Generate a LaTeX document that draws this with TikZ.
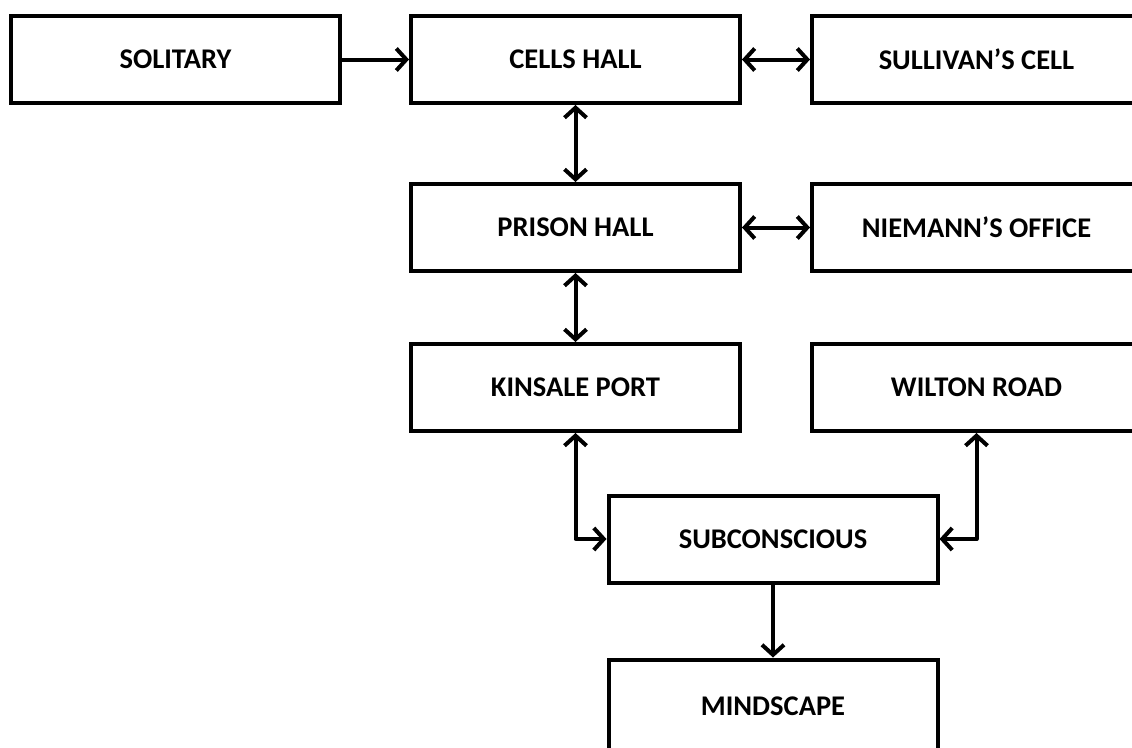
\documentclass[tikz,border=0pt]{standalone}
\usepackage{fontspec}
\setmainfont{Carlito}
\usetikzlibrary{arrows.meta}
\begin{document}
\begin{tikzpicture}[x=1pt,y=-1pt,
  box/.style={draw=black, line width=4pt, fill=white, rectangle,
    minimum width=329pt, minimum height=87pt, inner sep=0pt,
    font=\fontsize{28.5}{33}\selectfont\bfseries, text=black},
  conn/.style={line width=4pt, line join=round, line cap=round,
    arrows={-}, >={Straight Barb[length=10pt,width=22pt,line width=4pt]}}]
\useasboundingbox (0,0) rectangle (1132,747);
\clip (0,0) rectangle (1132,747);
\node[box] (sol) at (175.5,59.5) {SOLITARY};
\node[box] (cells) at (575.5,59.5) {CELLS HALL};
\node[box] (sul) at (976.5,59.5) {SULLIVAN’S CELL};
\node[box] (prison) at (575.5,227.5) {PRISON HALL};
\node[box] (nie) at (976.5,227.5) {NIEMANN’S OFFICE};
\node[box] (kin) at (575.5,387.5) {KINSALE PORT};
\node[box] (wil) at (976.5,387.5) {WILTON ROAD};
\node[box] (sub) at (773,539) {SUBCONSCIOUS};
\node[box, minimum height=93pt] (mind) at (773,706) {MINDSCAPE};
\draw[conn,->] (sol.east) -- (cells.west);
\draw[conn,<->] (cells.east) -- (sul.west);
\draw[conn,<->] (cells.south) -- (prison.north);
\draw[conn,<->] (prison.east) -- (nie.west);
\draw[conn,<->] (prison.south) -- (kin.north);
\draw[conn,<->] (kin.south) |- (sub.west);
\draw[conn,<->] (wil.south) |- (sub.east);
\draw[conn,->] (sub.south) -- (mind.north);
\end{tikzpicture}
\end{document}
